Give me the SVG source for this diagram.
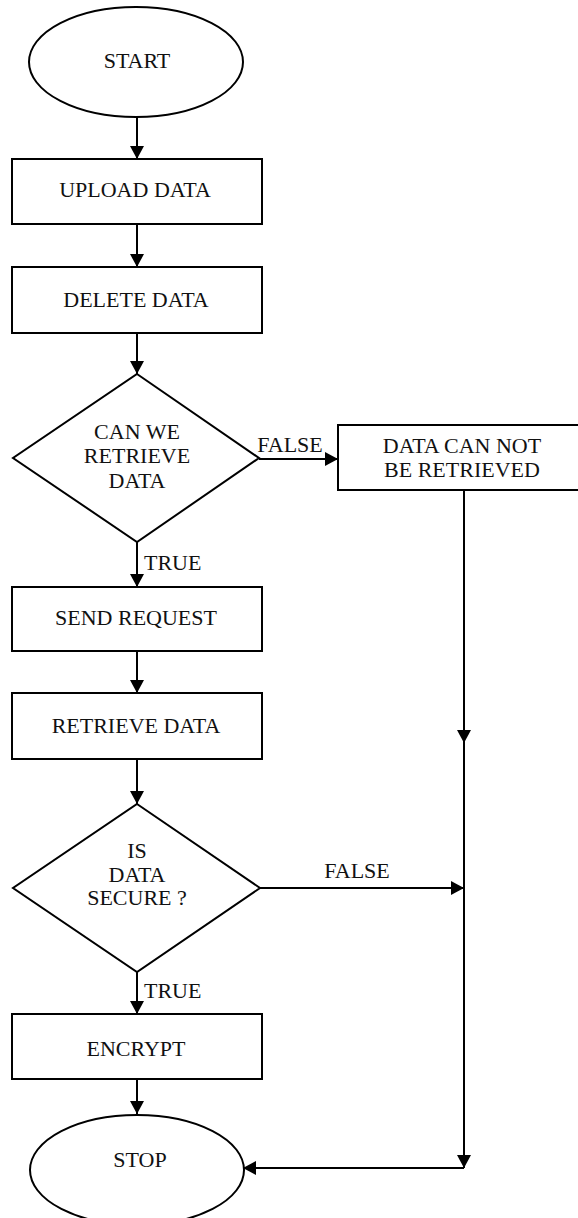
<svg xmlns="http://www.w3.org/2000/svg" width="578" height="1218" viewBox="0 0 578 1218">
<style>
.shape{fill:#fff;stroke:#000;stroke-width:2}
.conn{fill:none;stroke:#000;stroke-width:2}
text{font-family:"Liberation Serif","Times New Roman",serif;font-size:22px;fill:#111}
.c{text-anchor:middle}
</style>
<defs>
<marker id="arr" markerUnits="userSpaceOnUse" markerWidth="14" markerHeight="14" refX="13" refY="7" orient="auto">
<path d="M0,0 L13,7 L0,14 z" fill="#000"/>
</marker>
</defs>
<rect width="578" height="1218" fill="#fff"/>
<g id="connectors">
<path class="conn" d="M137,117 V159" marker-end="url(#arr)"/>
<path class="conn" d="M137,224 V267" marker-end="url(#arr)"/>
<path class="conn" d="M137,333 V374" marker-end="url(#arr)"/>
<path class="conn" d="M259,459 H338" marker-end="url(#arr)"/>
<path class="conn" d="M137,542 V587" marker-end="url(#arr)"/>
<path class="conn" d="M137,651 V693" marker-end="url(#arr)"/>
<path class="conn" d="M137,759 V804" marker-end="url(#arr)"/>
<path class="conn" d="M137,972 V1014" marker-end="url(#arr)"/>
<path class="conn" d="M137,1079 V1114" marker-end="url(#arr)"/>
<path class="conn" d="M464,490 V743" marker-end="url(#arr)"/>
<path class="conn" d="M464,743 V1168" marker-end="url(#arr)"/>
<path class="conn" d="M260,888 H464" marker-end="url(#arr)"/>
<path class="conn" d="M464,1168 H243" marker-end="url(#arr)"/>
<text x="290" y="452" class="c">FALSE</text>
<text x="144" y="570">TRUE</text>
<text x="357" y="878" class="c">FALSE</text>
<text x="144" y="998">TRUE</text>
</g>
<g id="start">
<ellipse class="shape" cx="136" cy="62" rx="107" ry="55"/>
<text x="137" y="68" class="c">START</text>
</g>
<g id="upload">
<rect class="shape" x="12" y="159" width="250" height="65"/>
<text x="135" y="197" class="c">UPLOAD DATA</text>
</g>
<g id="delete">
<rect class="shape" x="12" y="267" width="250" height="66"/>
<text x="136" y="307" class="c">DELETE DATA</text>
</g>
<g id="canretrieve">
<polygon class="shape" points="137,374 259,458 137,542 13,458"/>
<text x="137" y="439" class="c">CAN WE</text>
<text x="137" y="463" class="c">RETRIEVE</text>
<text x="137" y="488" class="c">DATA</text>
</g>
<g id="cannot">
<rect class="shape" x="338" y="425" width="245" height="65"/>
<text x="462" y="453" class="c">DATA CAN NOT</text>
<text x="462" y="477" class="c">BE RETRIEVED</text>
</g>
<g id="sendrequest">
<rect class="shape" x="12" y="587" width="250" height="64"/>
<text x="136" y="625" class="c">SEND REQUEST</text>
</g>
<g id="retrievedata">
<rect class="shape" x="12" y="693" width="250" height="66"/>
<text x="136" y="733" class="c">RETRIEVE DATA</text>
</g>
<g id="secure">
<polygon class="shape" points="137,804 260,888 137,972 13,888"/>
<text x="137" y="858" class="c">IS</text>
<text x="137" y="882" class="c">DATA</text>
<text x="137" y="905" class="c">SECURE ?</text>
</g>
<g id="encrypt">
<rect class="shape" x="12" y="1014" width="250" height="65"/>
<text x="136" y="1056" class="c">ENCRYPT</text>
</g>
<g id="stop">
<ellipse class="shape" cx="137" cy="1170" rx="107" ry="55"/>
<text x="140" y="1167" class="c">STOP</text>
</g>
</svg>
